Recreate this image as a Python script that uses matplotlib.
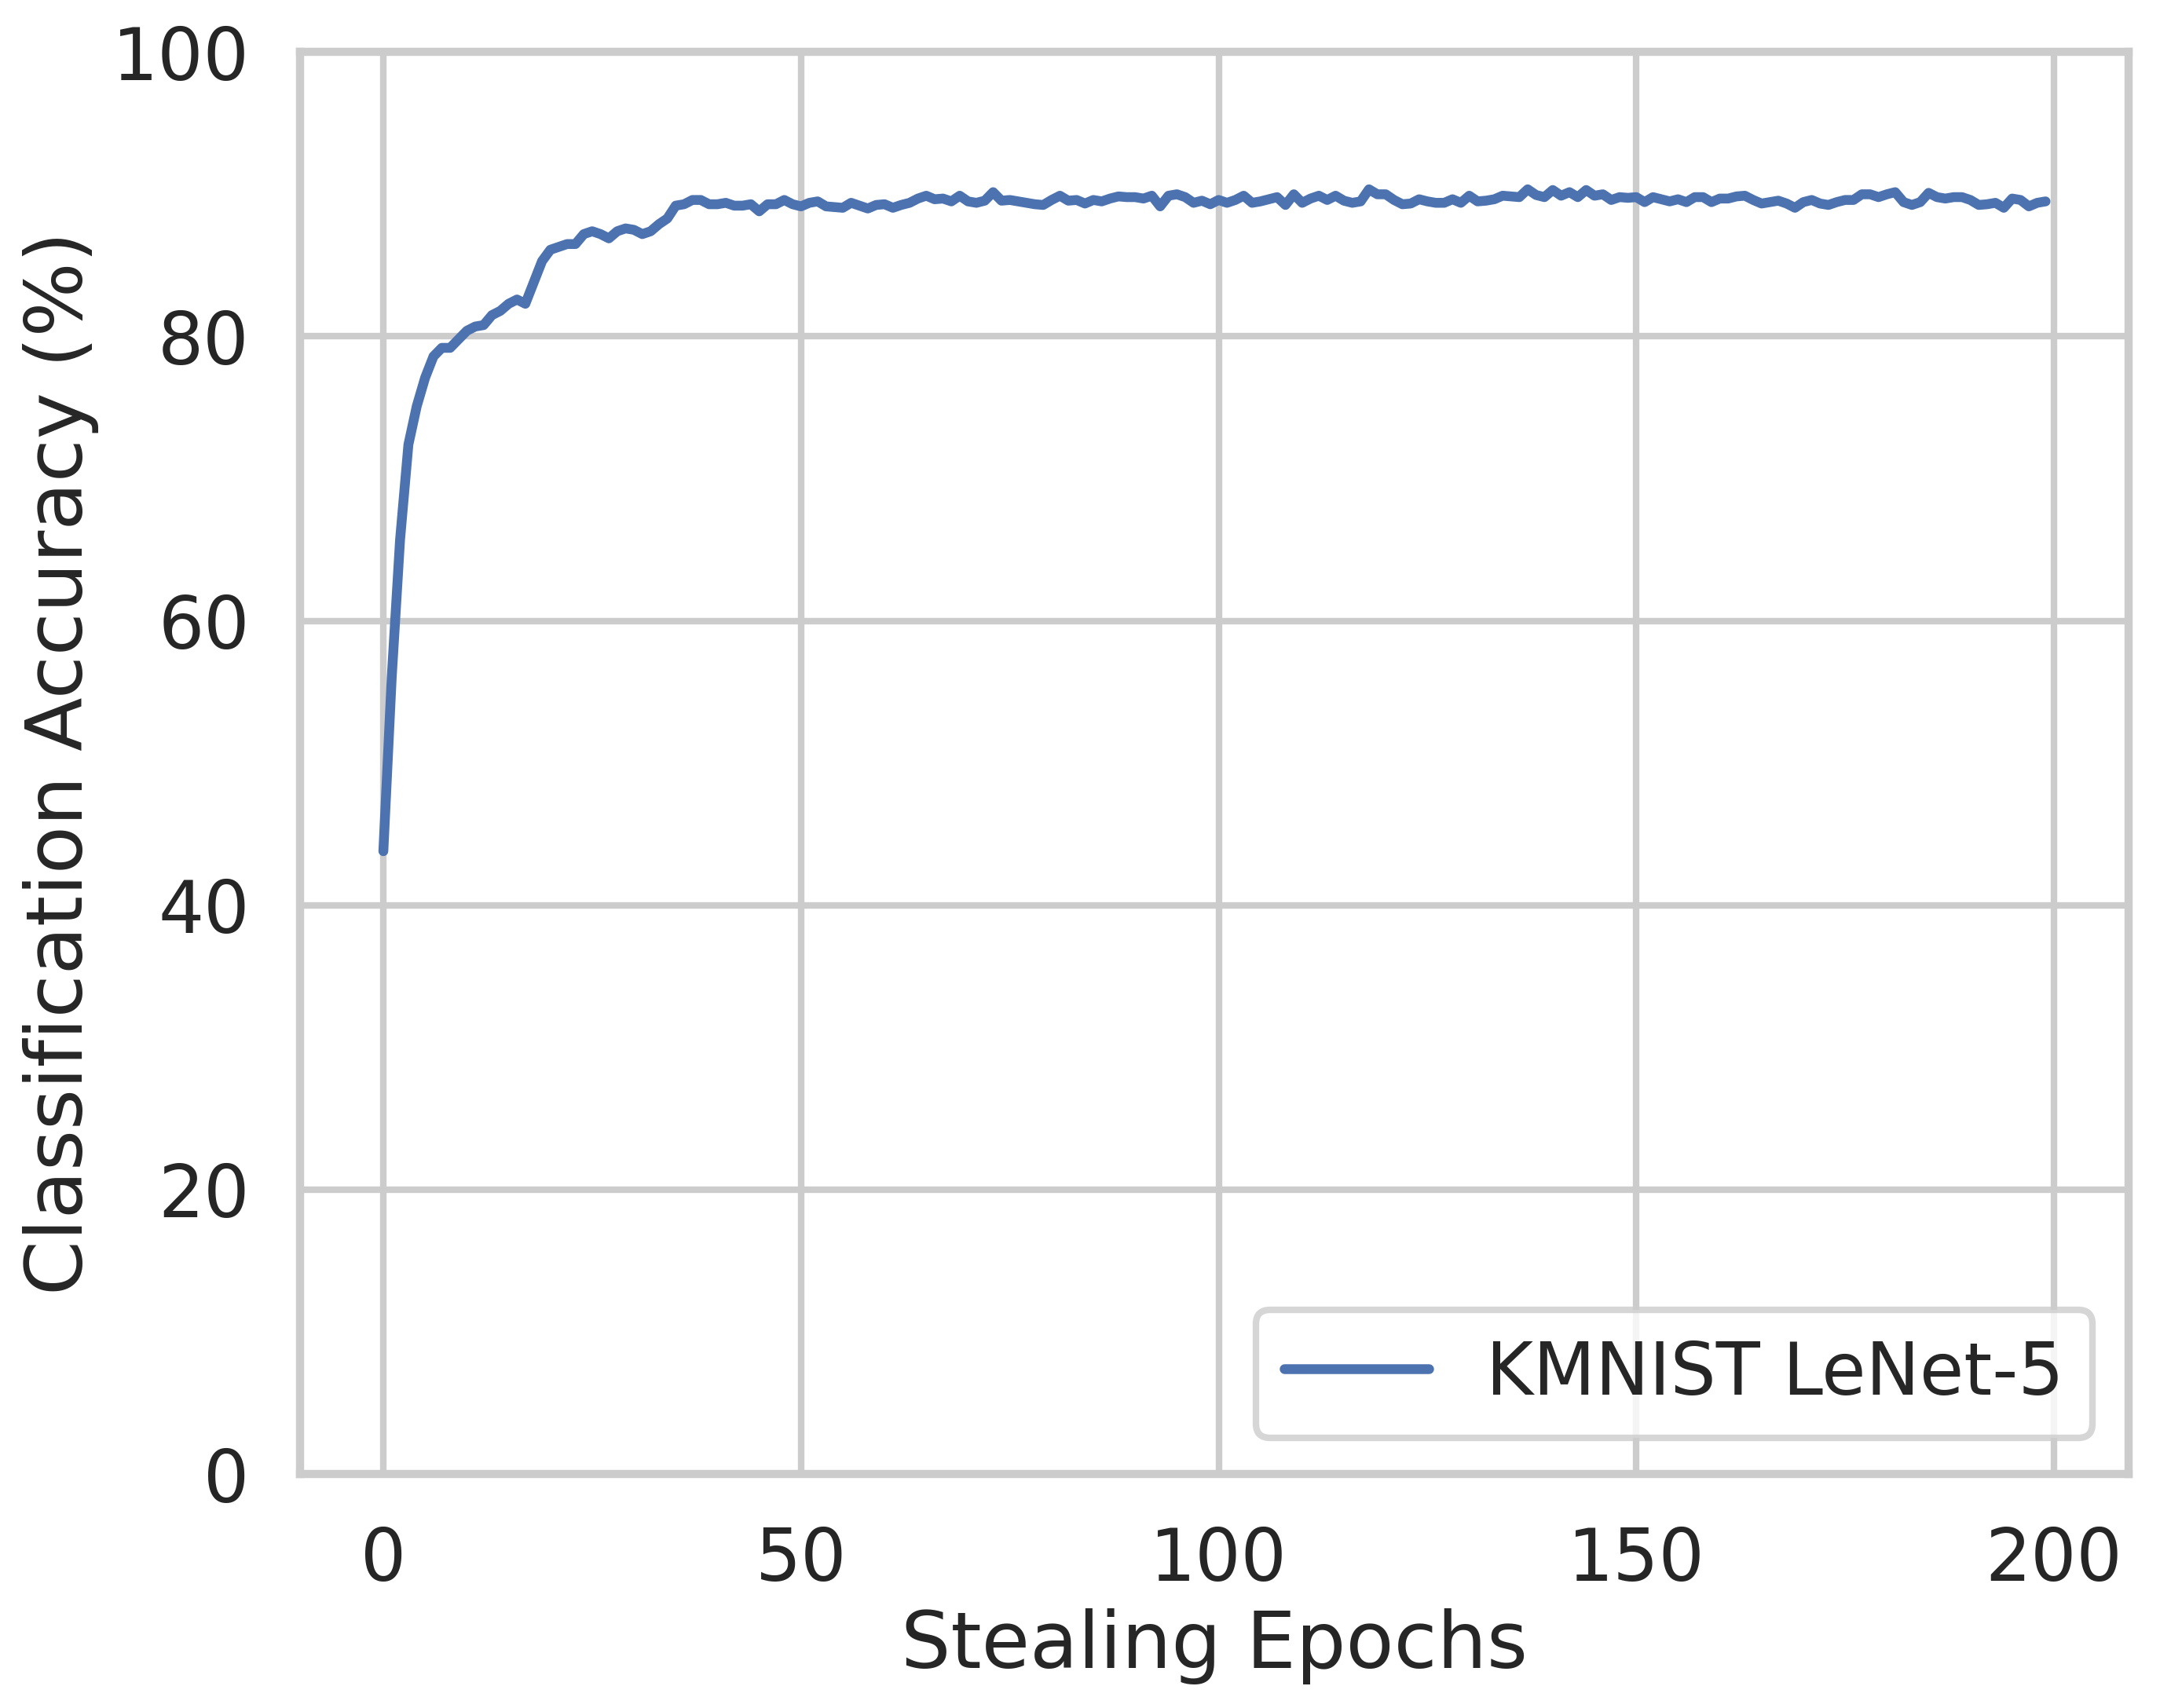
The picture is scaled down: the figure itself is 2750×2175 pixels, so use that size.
#!/usr/bin/env python3
# -*- coding: utf-8 -*-

"""Accuracy of the stolen KMNIST LeNet-5 model over stealing epochs."""

import matplotlib
matplotlib.use("Agg")
import matplotlib.pyplot as plt
import seaborn as sns

LABEL = "KMNIST LeNet-5"

# test accuracy (%) per stealing epoch, 0..199
ACC_WARMUP = [
    43.8, 56.0, 65.7, 72.4, 75.1, 77.1, 78.6, 79.2, 79.2, 79.8,
    80.4, 80.7, 80.8, 81.5, 81.8, 82.3, 82.6, 82.3, 83.8, 85.3,
    86.1, 86.3, 86.5, 86.5, 87.2, 87.4, 87.2, 86.9, 87.4, 87.6,
    87.5, 87.2, 87.4, 87.9, 88.3, 89.2, 89.3, 89.6, 89.6, 89.3,
    89.3, 89.4, 89.2, 89.2, 89.3, 88.8, 89.3, 89.3, 89.6, 89.3,
]
ACC_MID = [
    89.15, 89.4, 89.5, 89.15, 89.1, 89.05, 89.4, 89.2, 89.0, 89.25,
    89.3, 89.05, 89.25, 89.4, 89.7, 89.9, 89.65, 89.7, 89.5, 89.9,
    89.5, 89.4, 89.55, 90.15, 89.55, 89.6, 89.5, 89.4, 89.3, 89.25,
    89.6, 89.9, 89.55, 89.6, 89.35, 89.6, 89.5, 89.7, 89.85, 89.8,
    89.8, 89.7, 89.9, 89.15, 89.9, 90.0, 89.8, 89.4, 89.55, 89.3,
]
ACC_LATE = [
    89.6, 89.4, 89.6, 89.9, 89.4, 89.5, 89.65, 89.8, 89.25, 90.0,
    89.4, 89.7, 89.9, 89.6, 89.9, 89.55, 89.4, 89.5, 90.35, 90.0,
    90.0, 89.6, 89.3, 89.35, 89.65, 89.5, 89.4, 89.4, 89.65, 89.4,
    89.9, 89.5, 89.55, 89.65, 89.9, 89.85, 89.8, 90.35, 89.95, 89.8,
    90.3, 89.9, 90.15, 89.8, 90.3, 89.9, 90.0, 89.6, 89.8, 89.75,
]
ACC_END = [
    89.8, 89.45, 89.8, 89.65, 89.5, 89.65, 89.45, 89.8, 89.8, 89.45,
    89.7, 89.7, 89.85, 89.9, 89.6, 89.35, 89.45, 89.55, 89.35, 89.05,
    89.45, 89.6, 89.35, 89.25, 89.45, 89.6, 89.6, 90.0, 90.0, 89.8,
    90.0, 90.15, 89.45, 89.25, 89.45, 90.1, 89.8, 89.7, 89.8, 89.8,
    89.6, 89.25, 89.3, 89.4, 89.05, 89.7, 89.6, 89.15, 89.4, 89.5,
]


def main():
    acc = ACC_WARMUP + ACC_MID + ACC_LATE + ACC_END
    epochs = list(range(len(acc)))

    sns.set_theme(style="whitegrid", context="poster")

    fig, ax = plt.subplots(figsize=(2750 / 300, 2175 / 300))
    fig.subplots_adjust(left=0.139, right=0.9855, top=0.9695, bottom=0.137)

    ax.plot(epochs, acc, label=LABEL)
    ax.set_ylim(0, 100)

    ax.set_xlabel("Stealing Epochs")
    ax.set_ylabel("Classification Accuracy (%)")
    ax.legend(loc="lower right")

    fig.savefig("out.png", dpi=300)


if __name__ == "__main__":
    main()
